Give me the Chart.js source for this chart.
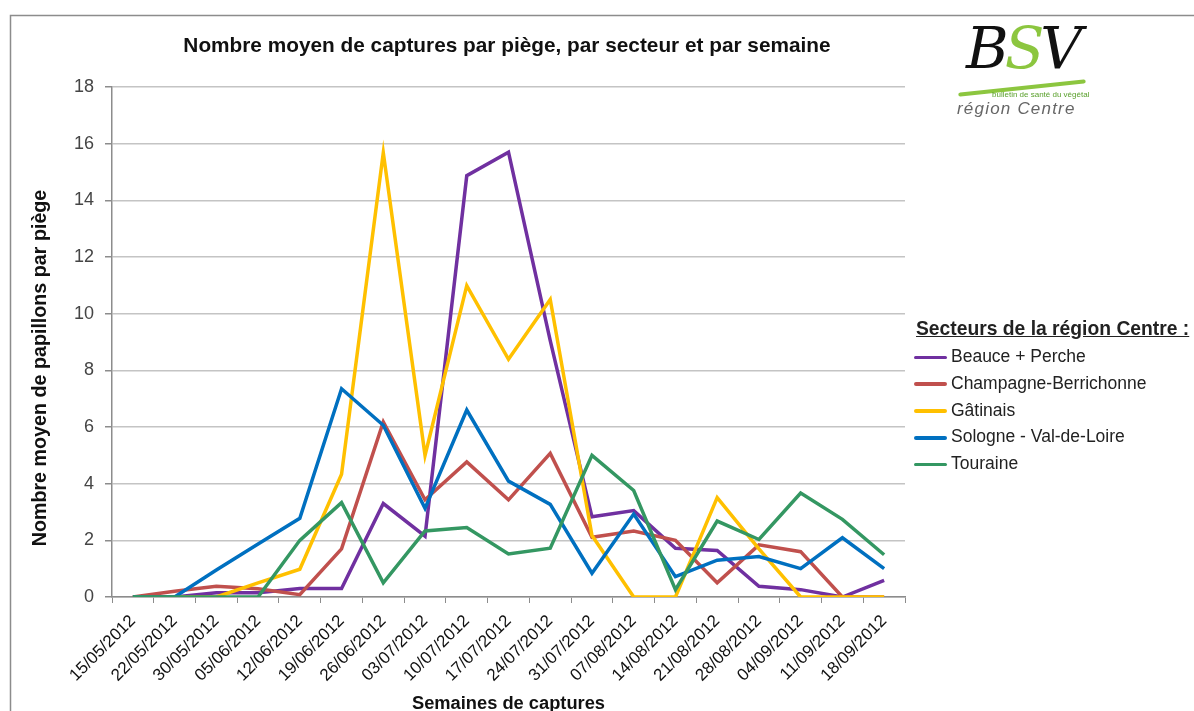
<!DOCTYPE html>
<html>
<head>
<meta charset="utf-8">
<script src="https://cdn.jsdelivr.net/npm/chart.js@4.4.0/dist/chart.umd.min.js"></script>
<style>
    body { margin: 0; background: #fff; }
    #wrap { position: relative; width: 1194px; height: 711px; overflow: hidden; font-family: "Liberation Sans", sans-serif; }
    #titre { position: absolute; left: 0; width: 1014px; top: 33px; text-align: center; font-weight: bold; font-size: 20.8px; color: #111; white-space: nowrap; }
    #legende { position: absolute; left: 914px; top: 318px; color: #222; }
    #legende .t { font-weight: bold; font-size: 19.3px; text-decoration: underline; margin-left: 2px; margin-bottom: 3px; white-space: nowrap; }
    #legende .item { height: 26.8px; line-height: 26.8px; font-size: 17.5px; white-space: nowrap; }
    #legende .item span { display: inline-block; width: 33px; height: 3.5px; vertical-align: middle; margin-right: 4px; border-radius: 2px; }
    #logo { position: absolute; left: 952px; top: 18px; width: 140px; height: 100px; }
    #logo .bsv { position: absolute; left: 14px; top: -4px; font-family: "DejaVu Serif", serif; font-style: italic; font-size: 58px; color: #111; letter-spacing: -4px; }
    #logo .bsv b { color: #8cc63f; font-weight: normal; }
    #logo .swoosh { position: absolute; left: 6px; top: 68px; width: 128px; height: 4px; background: #8cc63f; transform: rotate(-6deg); border-radius: 2px; }
    #logo .b1 { position: absolute; left: 40px; top: 72px; font-size: 8px; color: #5aa02c; white-space: nowrap; }
    #logo .b2 { position: absolute; left: 5px; top: 81px; font-size: 17px; font-style: italic; color: #666; white-space: nowrap; letter-spacing: 1.2px; }
</style>
</head>
<body>
<div id="wrap">
    <canvas id="captures" width="1194" height="711"></canvas>
    <div id="titre">Nombre moyen de captures par piège, par secteur et par semaine</div>
    <div id="logo">
        <div class="swoosh"></div>
        <div class="bsv">B<b>S</b>V</div>
        <div class="b1">bulletin de santé du végétal</div>
        <div class="b2">région Centre</div>
    </div>
    <div id="legende"></div>
</div>
<script>
// semaines de captures
var semaines = ['15/05/2012', '22/05/2012', '30/05/2012', '05/06/2012', '12/06/2012', '19/06/2012',
    '26/06/2012', '03/07/2012', '10/07/2012', '17/07/2012', '24/07/2012', '31/07/2012', '07/08/2012',
    '14/08/2012', '21/08/2012', '28/08/2012', '04/09/2012', '11/09/2012', '18/09/2012'];

// nombre moyen de papillons par piège, par secteur
var beauce = [0, 0, 0.15, 0.15, 0.3, 0.3, 3.3, 2.15, 14.87, 15.7, 9.05, 2.83, 3.05, 1.72, 1.64, 0.38, 0.26, 0, 0.59];
var champagne = [0, 0.2, 0.38, 0.29, 0.08, 1.7, 6.18, 3.43, 4.77, 3.43, 5.07, 2.11, 2.33, 2.0, 0.5, 1.84, 1.6, 0, 0];
var gatinais = [0, 0, 0, 0.5, 0.98, 4.33, 15.68, 5.0, 10.99, 8.39, 10.5, 2.17, 0, 0, 3.51, 1.7, 0, 0, 0];
var sologne = [0, 0, 0.95, 1.87, 2.78, 7.35, 6.06, 3.13, 6.6, 4.09, 3.27, 0.84, 2.93, 0.72, 1.3, 1.43, 1.0, 2.09, 1.0];
var touraine = [0, 0, 0, 0, 2.0, 3.33, 0.5, 2.33, 2.45, 1.52, 1.72, 5.0, 3.76, 0.26, 2.68, 2.03, 3.67, 2.74, 1.49];

var secteurs = ['Beauce + Perche', 'Champagne-Berrichonne', 'Gâtinais', 'Sologne - Val-de-Loire', 'Touraine'];
var series = [beauce, champagne, gatinais, sologne, touraine];
var couleurs = ['#7030a0', '#c0504d', '#ffc000', '#0070c0', '#349762'];

var datasets = [];
for (let i = 0; i < series.length; i++) {
    datasets.push({
        label: secteurs[i],
        data: series[i],
        borderColor: couleurs[i],
        backgroundColor: couleurs[i],
        borderWidth: 3.5,
        pointRadius: 0,
        tension: 0,
        order: series.length - i   // le dernier secteur passe devant
    });
}

// légende faite à la main à droite
var leg = '<div class="t">Secteurs de la région Centre :</div>';
for (let i = 0; i < secteurs.length; i++) {
    leg += '<div class="item"><span style="background:' + couleurs[i] + '"></span>' + secteurs[i] + '</div>';
}
document.getElementById('legende').innerHTML = leg;

// cadre gris + titre de l'axe vertical (pas centré sur la zone du graphique dans l'original)
var cadre = {
    id: 'cadre',
    beforeDraw: function (chart) {
        var ctx = chart.ctx;
        ctx.save();
        ctx.fillStyle = '#fff';
        ctx.fillRect(0, 0, chart.width, chart.height);
        ctx.strokeStyle = '#8c8c8c';
        ctx.lineWidth = 1.5;
        ctx.strokeRect(10.5, 15.5, 1300, 800);
        ctx.restore();
    },
    afterDraw: function (chart) {
        var ctx = chart.ctx;
        ctx.save();
        ctx.translate(41, 368);
        ctx.rotate(-Math.PI / 2);
        ctx.font = 'bold 19.7px "Liberation Sans"';
        ctx.fillStyle = '#111';
        ctx.textAlign = 'center';
        ctx.textBaseline = 'middle';
        ctx.fillText('Nombre moyen de papillons par piège', 0, 0);
        ctx.restore();
    }
};

var chart = new Chart(document.getElementById('captures'), {
    type: 'line',
    data: {
        labels: semaines,
        datasets: datasets
    },
    plugins: [cadre],
    options: {
        responsive: false,
        animation: false,
        layout: {
            padding: { top: 87, right: 289, bottom: 0, left: 0 }
        },
        plugins: {
            legend: { display: false },
            tooltip: { enabled: false }
        },
        scales: {
            x: {
                offset: true,
                grid: {
                    offset: true,
                    drawOnChartArea: false,
                    drawTicks: true,
                    tickLength: 6,
                    color: '#8c8c8c'
                },
                border: { color: '#8c8c8c', width: 1.5 },
                ticks: {
                    autoSkip: false,
                    minRotation: 45,
                    maxRotation: 45,
                    padding: 8,
                    color: '#111',
                    font: { family: 'Liberation Sans', size: 17 }
                },
                title: {
                    display: true,
                    text: 'Semaines de captures',
                    color: '#111',
                    padding: { top: 0, bottom: -4 },
                    font: { family: 'Liberation Sans', size: 18.3, weight: 'bold' }
                },
                afterFit: function (scale) { scale.height = 114; }
            },
            y: {
                min: 0,
                max: 18,
                ticks: {
                    stepSize: 2,
                    padding: 11,
                    color: '#454545',
                    font: { family: 'Liberation Sans', size: 18 }
                },
                grid: {
                    color: '#c4c4c4',
                    lineWidth: 1.5,
                    tickLength: 7,
                    tickColor: '#8c8c8c'
                },
                border: { color: '#8c8c8c', width: 1.5 },
                afterFit: function (scale) { scale.width = 112; }
            }
        }
    }
});
</script>
</body>
</html>
